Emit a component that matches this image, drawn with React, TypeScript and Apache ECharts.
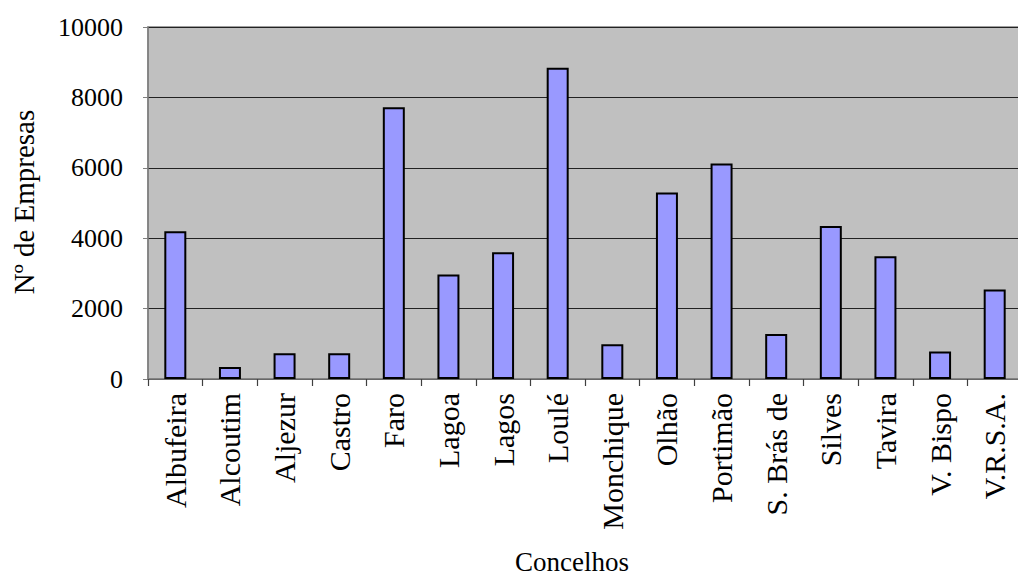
import React, { useEffect, useRef } from "react";
import * as echarts from "echarts";

const categories = [
  "Albufeira", "Alcoutim", "Aljezur", "Castro", "Faro", "Lagoa", "Lagos", "Loulé",
  "Monchique", "Olhão", "Portimão", "S. Brás de", "Silves", "Tavira", "V. Bispo", "V.R.S.A.",
];
const empresas = [4200, 340, 730, 730, 7720, 2970, 3600, 8840, 990, 5300, 6120, 1280, 4350, 3490, 780, 2540];
const yTicks = { min: 0, max: 10000, interval: 2000 };
const yAxisTitle = "Nº de Empresas";
const xAxisTitle = "Concelhos";

const FONT = "'Liberation Serif', 'Times New Roman', serif";

export default function App() {
  const ref = useRef<HTMLDivElement>(null);
  useEffect(() => {
    if (!ref.current) return;
    const chart = echarts.init(ref.current, undefined, { renderer: "svg" });
    chart.setOption({
      animation: false,
      backgroundColor: "#ffffff",
      grid: {
        left: 148, top: 27, width: 874, height: 352,
        outerBoundsMode: "none", containLabel: false,
        show: true, backgroundColor: "#C0C0C0", borderColor: "#808080", borderWidth: 1.5,
      },
      xAxis: {
        type: "category",
        data: categories,
        axisLine: { lineStyle: { color: "#808080", width: 1.5 } },
        axisTick: { show: true, length: 7, lineStyle: { color: "#404040", width: 1.2 } },
        axisLabel: { rotate: 90, margin: 14, fontFamily: FONT, fontSize: 30, color: "#000", interval: 0 },
      },
      yAxis: {
        type: "value",
        min: yTicks.min,
        max: yTicks.max,
        interval: yTicks.interval,
        axisLine: { show: true, lineStyle: { color: "#808080", width: 1.5 } },
        axisTick: { show: true, length: 5, lineStyle: { color: "#808080" } },
        axisLabel: { margin: 25, fontFamily: FONT, fontSize: 26, color: "#000", formatter: (v: number) => String(v) },
        splitLine: { show: true, lineStyle: { color: "#222222", width: 1.2 } },
      },
      graphic: [
        {
          type: "text",
          x: 24,
          y: 202,
          rotation: Math.PI / 2,
          style: { text: yAxisTitle, font: `29px ${FONT}`, fill: "#000", align: "center", verticalAlign: "middle" },
        },
        {
          type: "text",
          x: 572,
          y: 562,
          style: { text: xAxisTitle, font: `27px ${FONT}`, fill: "#000", align: "center", verticalAlign: "middle" },
        },
      ],
      series: [
        {
          type: "bar",
          data: empresas,
          barWidth: 22,
          itemStyle: { color: "#9999FF", borderColor: "#000", borderWidth: 2 },
        },
      ],
    });
    return () => chart.dispose();
  }, []);
  return <div ref={ref} style={{ position: "fixed", left: 0, top: 0, width: 1018, height: 579 }} />;
}
